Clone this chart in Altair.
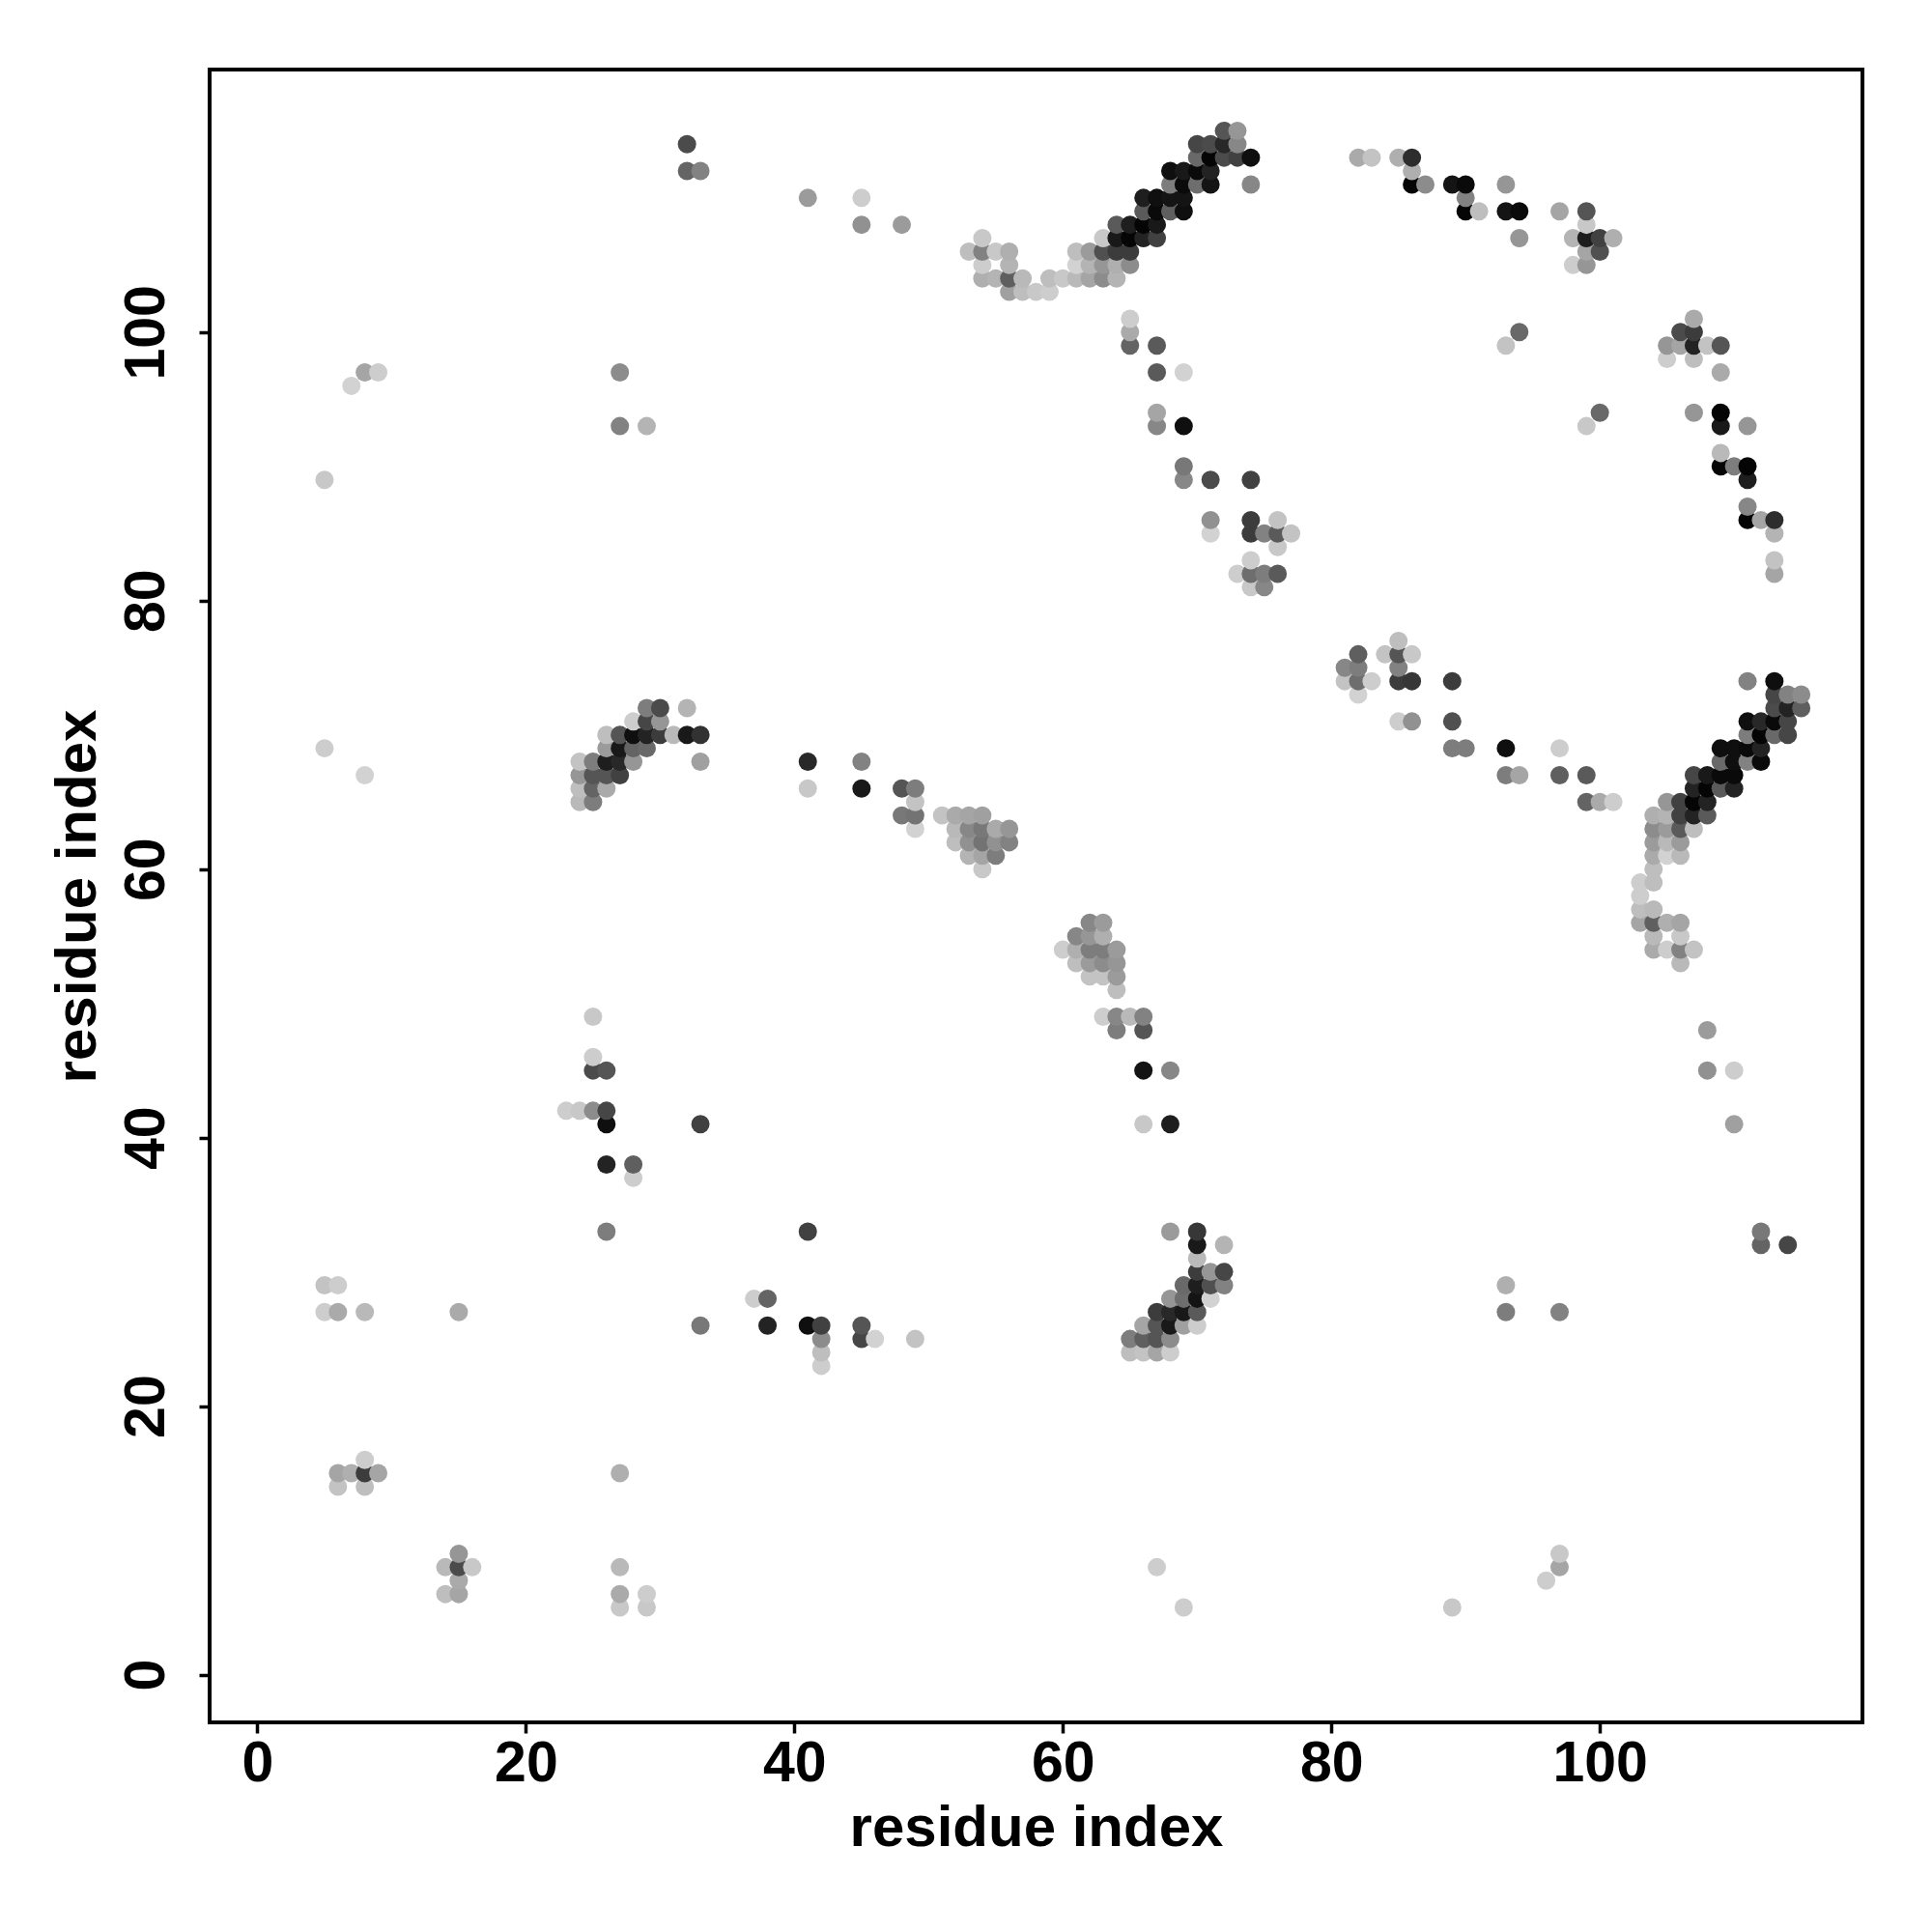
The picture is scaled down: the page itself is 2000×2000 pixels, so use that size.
import altair as alt
import pandas as pd

# (residue i, residue j, grey level 0-255)
upper_left = [(32,114,75),(32,112,100),(33,112,130),(41,110,155),(45,110,205),(45,108,145),(48,108,155),
              (5,89,200),(7,96,210),(8,97,165),(9,97,205),(27,97,140),(27,93,130),(29,93,180),(5,69,205),(8,67,210)]
cluster_b = [(29,72,125),(30,72,75),(32,72,180),(28,71,205),(29,71,70),(30,71,150),
             (26,70,190),(27,70,85),(28,70,15),(29,70,35),(30,70,60),(31,70,185),(32,70,25),(33,70,50),
             (26,69,155),(27,69,25),(28,69,100),(29,69,105),
             (24,68,195),(25,68,125),(26,68,30),(27,68,40),(28,68,150),(33,68,160),
             (24,67,150),(25,67,85),(26,67,85),(27,67,65),(24,66,190),(25,66,100),(26,66,170),(24,65,185),(25,65,125)]
mid_strand = [(41,68,40),(45,68,130),(41,66,200),(45,66,25),(48,66,85),(49,66,125),(49,65,195),(48,64,120),(49,64,115),(49,63,210)]
cluster_d = [(51,64,195),(52,64,170),(53,64,165),(54,64,160),
             (52,63,185),(53,63,135),(54,63,120),(55,63,170),(56,63,150),
             (52,62,190),(53,62,145),(54,62,115),(55,62,145),(56,62,130),
             (53,61,180),(54,61,165),(55,61,125),(54,60,200)]
band_a = [(72,115,85),(73,115,150),(70,114,70),(71,114,75),(72,114,40),(73,114,135),
          (70,113,105),(71,113,5),(72,113,75),(73,113,65),(74,113,15),
          (68,112,15),(69,112,25),(70,112,10),(71,112,35),
          (68,111,125),(69,111,10),(70,111,110),(71,111,20),(74,111,135),
          (66,110,30),(67,110,15),(68,110,20),(69,110,20),(66,109,90),(67,109,10),(68,109,95),(69,109,15),
          (64,108,90),(65,108,30),(66,108,5),(67,108,25),(54,107,200),(63,107,200),(64,107,25),(65,107,5),(66,107,35),(67,107,65),
          (53,106,190),(54,106,130),(55,106,200),(56,106,175),(61,106,190),(62,106,155),(63,106,80),(64,106,60),(65,106,60),
          (54,105,205),(56,105,180),(61,105,210),(62,105,180),(63,105,150),(64,105,175),(65,105,140),
          (54,104,175),(55,104,180),(56,104,95),(57,104,185),(59,104,190),(60,104,200),(61,104,185),(62,104,165),(63,104,140),(64,104,180),
          (56,103,160),(57,103,190),(58,103,200),(59,103,205)]
diagonal_h = [(65,101,205),(65,100,170),(65,99,100),(67,99,90),(67,97,90),(69,97,210),(67,94,165),(67,93,135),(69,93,15),
              (69,90,120),(69,89,135),(71,89,75),(74,89,65),(71,86,145),(71,85,210),(74,86,60),(74,85,60),(75,85,130),
              (76,86,195),(76,85,90),(77,85,195),(76,84,200),(74,83,205),(73,82,205),(74,82,110),(75,82,125),(76,82,90),(74,81,200),(75,81,135)]
upper_right = [(82,113,170),(83,113,195),(85,113,175),(86,113,45),(86,112,175),(86,111,5),(87,111,140),
               (89,111,20),(90,111,10),(90,110,130),(90,109,5),(91,109,190),(93,111,150),(93,109,20),(94,109,10),(94,107,150),
               (97,109,165),(99,109,85),(99,108,200),(98,107,180),(99,107,30),(100,107,65),(101,107,175),(99,106,165),(100,106,80),(98,105,205),(99,105,150),
               (94,100,105),(93,99,195),(100,94,105),(99,93,200)]
right_arc = [(107,101,170),(106,100,75),(107,100,60),(105,99,150),(106,99,165),(107,99,35),(108,99,195),(109,99,85),(105,98,205),(107,98,190),(109,97,170),
             (107,94,150),(109,94,5),(109,93,25),(111,93,150),(109,91,185),(109,90,5),(110,90,125),(111,90,5),(111,89,30),
             (111,87,135),(111,86,5),(112,86,165),(113,86,45),(113,85,180),(113,83,195),(113,82,165)]
middle_right = [(85,77,190),(82,76,95),(84,76,195),(85,76,85),(86,76,200),(81,75,135),(82,75,125),(85,75,130),
                (81,74,195),(82,74,110),(83,74,205),(85,74,60),(86,74,55),(89,74,60),(82,73,210),(85,71,205),(86,71,145),(89,71,80),
                (89,69,125),(90,69,125),(93,69,15),(97,69,205),(93,67,125),(94,67,165),(97,67,95),(99,67,90),(99,65,100),(100,65,170),(101,65,205)]
cluster_c = [(111,74,130),(113,74,15),(113,73,70),(114,73,130),(115,73,140),(113,72,75),(114,72,35),(115,72,95),
             (111,71,15),(112,71,40),(113,71,10),(114,71,70),(111,70,125),(112,70,5),(113,70,105),(114,70,70),
             (109,69,15),(110,69,15),(111,69,10),(112,69,35),(109,68,105),(110,68,15),(111,68,130),(112,68,10),
             (107,67,70),(108,67,25),(109,67,10),(110,67,10),(107,66,35),(108,66,5),(109,66,90),(110,66,35),
             (105,65,150),(106,65,65),(107,65,5),(108,65,35),(104,64,175),(105,64,180),(106,64,65),(107,64,35),(108,64,90),
             (104,63,140),(105,63,155),(106,63,90),(107,63,190),(104,62,155),(105,62,185),(106,62,155),
             (104,61,170),(105,61,210),(106,61,185),(104,60,190)]
cluster_c_low = [(103,59,205),(104,59,190),(103,58,205),(103,57,190),(104,57,185),(103,56,165),(104,56,95),(105,56,175),(106,56,165),
                 (104,55,185),(106,55,200),(104,54,170),(105,54,205),(106,54,130),(107,54,195),(106,53,185)]
cluster_e = [(62,56,135),(63,56,155),(61,55,135),(62,55,150),(63,55,175),(60,54,205),(61,54,175),(62,54,125),(63,54,125),(64,54,155),
             (61,53,190),(62,53,155),(63,53,140),(64,53,150),(62,52,195),(63,52,195),(64,52,155),(64,51,190),
             (63,49,205),(64,49,135),(65,49,185),(66,49,130),(64,48,125),(66,48,85),(66,45,20),(68,45,135),(66,41,200),(68,41,30)]
lower_right = [(108,48,155),(108,45,145),(110,45,205),(110,41,160),(112,33,120),(112,32,100),(114,32,70),
               (93,29,175),(93,27,125),(97,27,130),(67,8,205),(69,5,205),(89,5,200),(96,7,205),(97,9,200),(97,8,165)]
cluster_f = [(68,33,155),(70,33,55),(70,32,25),(72,32,180),(70,31,185),(70,30,60),(71,30,150),(72,30,70),
             (69,29,105),(70,29,30),(71,29,80),(72,29,130),(68,28,150),(69,28,110),(70,28,20),(71,28,210),
             (67,27,60),(68,27,40),(69,27,25),(70,27,90),(66,26,165),(67,26,85),(68,26,25),(69,26,160),(70,26,205),
             (65,25,125),(66,25,95),(67,25,85),(68,25,140),(65,24,190),(66,24,195),(67,24,165),(68,24,205)]
lower_left = [(25,49,200),(25,46,205),(25,45,75),(26,45,85),(23,42,205),(24,42,200),(25,42,140),(26,42,70),(26,41,15),(33,41,65),
              (26,38,35),(28,38,95),(28,37,205),(26,33,125),(41,33,65),(5,29,195),(6,29,205),(5,27,205),(6,27,170),(8,27,185),(15,27,170),
              (37,28,205),(38,28,100),(33,26,120),(38,26,35),(41,26,15),(42,26,65),(45,26,85),(42,25,140),(45,25,70),(46,25,210),(49,25,195),(42,24,190),(42,23,205),
              (8,16,205),(6,15,165),(7,15,175),(8,15,60),(9,15,165),(6,14,195),(8,14,190),(27,15,175),
              (15,9,150),(14,8,185),(15,8,75),(16,8,200),(15,7,170),(14,6,190),(15,6,165),(27,8,185),(27,6,170),(29,6,205),(27,5,200),(29,5,200)]

tick_values = [0, 20, 40, 60, 80, 100]
axis_title = "residue index"
clusters = [upper_left, cluster_b, mid_strand, cluster_d, band_a, diagonal_h, upper_right, right_arc,
            middle_right, cluster_c, cluster_c_low, cluster_e, lower_right, cluster_f, lower_left]

rows = [p for c in clusters for p in c]
df = pd.DataFrame(rows, columns=["i", "j", "g"]).sort_values(["i", "j"])
df["shade"] = df["g"].map(lambda v: f"#{v:02x}{v:02x}{v:02x}")

FONT = "Liberation Sans"
axis_common = dict(values=tick_values, grid=False, domain=False, format="d",
                   tickColor="black", tickWidth=3.5, tickSize=11,
                   labelColor="black", titleColor="black",
                   labelFont=FONT, labelFontWeight="bold", labelFontSize=59,
                   titleFont=FONT, titleFontWeight="bold", titleFontSize=60,
                   labelOverlap=False, labelFlush=False)

chart = alt.Chart(df).mark_circle(size=360, opacity=1).encode(
    x=alt.X("i:Q", scale=alt.Scale(domain=[-3.56, 119.56], nice=False, zero=False),
            axis=alt.Axis(title=axis_title, labelPadding=2, titleBaseline="alphabetic",
                          titleY=127, **axis_common)),
    y=alt.Y("j:Q", scale=alt.Scale(domain=[-3.56, 119.56], nice=False, zero=False),
            axis=alt.Axis(title=axis_title, labelAngle=270, labelAlign="center", labelBaseline="bottom",
                          labelPadding=25, titleAngle=270, titleBaseline="alphabetic", titleAlign="center",
                          titleX=-119, **axis_common)),
    color=alt.Color("shade:N", scale=None),
).properties(
    width=1711, height=1711,
    padding={"left": 209, "top": 64, "right": 50, "bottom": 180},
    autosize=alt.AutoSizeParams(type="none"),
    background="white",
).configure_view(stroke="black", strokeWidth=4)

chart.save("out.html", embed_options={"renderer": "svg", "actions": False})
